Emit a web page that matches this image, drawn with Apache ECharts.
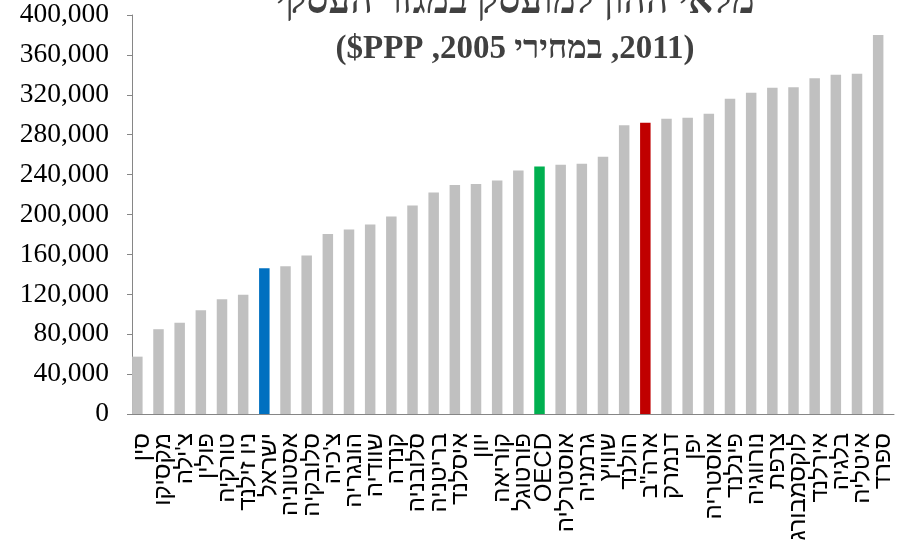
<!DOCTYPE html>
<html>
<head>
<meta charset="utf-8">
<script src="https://cdn.jsdelivr.net/npm/echarts@6/dist/echarts.min.js"></script>
<style>
  html, body { margin: 0; padding: 0; background: #fff; }
  #chart-dom { width: 903px; height: 544px; }
</style>
</head>
<body>
<div id="chart-dom" dir="rtl"></div>
<script>
// מלאי ההון למועסק - 2011
const countries = [
  'סין', 'מקסיקו', "צ'ילה", 'פולין', 'טורקיה', 'ניו זילנד', 'ישראל', 'אסטוניה', 'סלובקיה',
  "צ'כיה", 'הונגריה', 'שוודיה', 'קנדה', 'סלובניה', 'בריטניה', 'איסלנד', 'יוון', 'קוריאה',
  'פורטוגל', 'OECD', 'אוסטרליה', 'גרמניה', 'שוויץ', 'הולנד', 'ארה"ב', 'דנמרק', 'יפן',
  'אוסטריה', 'פינלנד', 'נורווגיה', 'צרפת', 'לוקסמבורג', 'אירלנד', 'בלגיה', 'איטליה', 'ספרד'
];
const capital = [
  57500, 85000, 91500, 104000, 115000, 119500, 146000, 148000, 159000,
  180500, 185000, 190000, 198000, 209000, 222000, 229500, 230500, 234000,
  244000, 248000, 250000, 251000, 258000, 289500, 292000, 296000, 297000,
  301000, 316000, 322000, 327000, 327500, 336500, 340000, 341000, 380000
];
const highlight = { 'ישראל': '#0070C0', 'OECD': '#00B050', 'ארה"ב': '#C00000' };
const yTicks = [0, 40000, 80000, 120000, 160000, 200000, 240000, 280000, 320000, 360000, 400000];

const myChart = echarts.init(document.getElementById('chart-dom'));

const barData = capital.map((v, i) => ({
  value: v,
  itemStyle: { color: highlight[countries[i]] || '#C0C0C0' }
}));

const option = {
  animation: false,
  title: [
    {
      text: 'מלאי ההון למועסק במגזר העסקי',
      left: 515,
      top: -17,
      padding: 0,
      textAlign: 'center',
      textStyle: { fontFamily: "'Liberation Serif', serif", fontSize: 39, fontWeight: 'bold', color: '#404040' }
    },
    {
      text: '(2011, במחירי 2005, PPP$)',
      left: 515,
      top: 33,
      padding: 0,
      textAlign: 'center',
      textStyle: { fontFamily: "'Liberation Serif', serif", fontSize: 33, fontWeight: 'bold', color: '#404040' }
    }
  ],
  grid: { left: 132, right: 9, top: 15, bottom: 130, containLabel: false, outerBoundsMode: 'none' },
  xAxis: {
    type: 'category',
    data: countries,
    axisLine: { lineStyle: { color: '#868686', width: 1 } },
    axisTick: { interval: 0, length: 8, lineStyle: { color: '#868686' } },
    axisLabel: {
      interval: 0,
      rotate: 90,
      margin: 19,
      color: '#000',
      fontSize: 24,
      fontFamily: "'Liberation Sans', Arial, sans-serif"
    }
  },
  yAxis: {
    type: 'value',
    min: 0,
    max: 400000,
    interval: 40000,
    splitLine: { show: false },
    axisLine: { show: true, lineStyle: { color: '#868686', width: 1 } },
    axisTick: { show: true, length: 5, lineStyle: { color: '#868686' } },
    axisLabel: {
      margin: 23,
      color: '#000',
      fontSize: 27.5,
      fontFamily: "'Liberation Serif', 'Times New Roman', serif",
      formatter: v => yTicks.includes(v) ? v.toLocaleString('en-US') : ''
    }
  },
  series: [
    {
      name: 'מלאי הון',
      type: 'bar',
      data: barData,
      barWidth: 10.5,
      barGap: '0%'
    },
    {
      // spacer so bars sit at the left of each category, like the original
      name: 'spacer',
      type: 'bar',
      data: capital.map(() => null),
      barWidth: 10.5,
      silent: true
    }
  ]
};
myChart.setOption(option, true);
</script>
</body>
</html>
